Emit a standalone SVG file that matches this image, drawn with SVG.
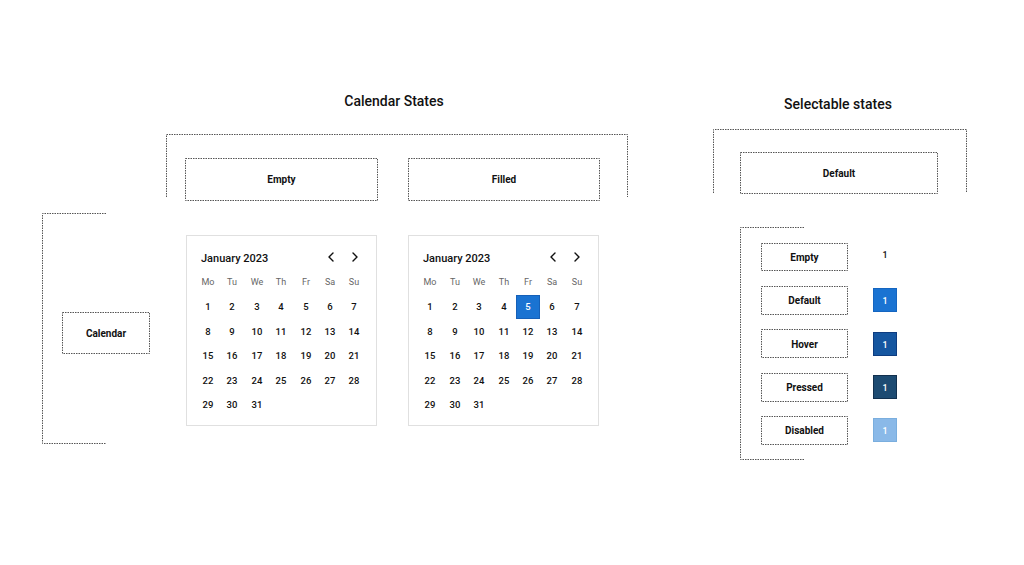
<svg xmlns="http://www.w3.org/2000/svg" width="1024" height="565" viewBox="0 0 1024 565">
<style>
text{font-family:Roboto,"Liberation Sans",sans-serif;fill:#111}
.title{font-size:14px;font-weight:500;text-anchor:middle}
.lbl{font-size:10px;font-weight:700;text-anchor:middle}
.br{fill:none;stroke:#555;stroke-width:1;stroke-dasharray:1.5 1}
.box{fill:#fff;stroke:#555;stroke-width:1;stroke-dasharray:1.5 1}
.card{fill:#fff;stroke:#e0e0e0;stroke-width:1}
.wd{font-size:9px;fill:#666;text-anchor:middle}
.d{font-size:9.5px;font-weight:500;text-anchor:middle}
.hd{font-size:11px;font-weight:500}
.chev{fill:none;stroke:#111;stroke-width:1.4;stroke-linecap:round;stroke-linejoin:round}
.sq{font-size:9px;font-weight:500;text-anchor:middle;fill:#fff}
</style>
<text class="title" x="394" y="106">Calendar States</text>
<text class="title" x="838" y="109">Selectable states</text>
<g id="brackets">
<path class="br" d="M166.5,197 V134.5 H627.5 V197"/>
<path class="br" d="M106,213.5 H42.5 V443.5 H106"/>
<path class="br" d="M713.5,193 V129.5 H966.5 V193"/>
<path class="br" d="M804,227.5 H740.5 V459.5 H804"/>
</g>
<g id="empty-head"><rect class="box" x="185.5" y="158.5" width="192" height="42"/><text class="lbl" x="281.5" y="183">Empty</text></g>
<g id="filled-head"><rect class="box" x="408.5" y="158.5" width="191" height="42"/><text class="lbl" x="504" y="183">Filled</text></g>
<g id="calendar-label"><rect class="box" x="62.5" y="312.5" width="87" height="41"/><text class="lbl" x="106" y="336.5">Calendar</text></g>
<g id="default-head"><rect class="box" x="740.5" y="152.5" width="197" height="41"/><text class="lbl" x="839" y="176.5">Default</text></g>

<g id="cal-empty">
<rect class="card" x="186.5" y="235.5" width="190" height="190"/>
<text class="hd" x="201" y="261.5">January 2023</text>
<path class="chev" d="M333,253 L329,257 L333,261"/>
<path class="chev" d="M353,253 L357,257 L353,261"/>
<g class="wdrow">
<text class="wd" x="208" y="285">Mo</text><text class="wd" x="232" y="285">Tu</text><text class="wd" x="257" y="285">We</text><text class="wd" x="281" y="285">Th</text><text class="wd" x="306" y="285">Fr</text><text class="wd" x="330" y="285">Sa</text><text class="wd" x="354" y="285">Su</text>
</g>
<text class="d" x="208" y="310">1</text><text class="d" x="232" y="310">2</text><text class="d" x="257" y="310">3</text><text class="d" x="281" y="310">4</text><text class="d" x="306" y="310">5</text><text class="d" x="330" y="310">6</text><text class="d" x="354" y="310">7</text>
<text class="d" x="208" y="334.5">8</text><text class="d" x="232" y="334.5">9</text><text class="d" x="257" y="334.5">10</text><text class="d" x="281" y="334.5">11</text><text class="d" x="306" y="334.5">12</text><text class="d" x="330" y="334.5">13</text><text class="d" x="354" y="334.5">14</text>
<text class="d" x="208" y="359">15</text><text class="d" x="232" y="359">16</text><text class="d" x="257" y="359">17</text><text class="d" x="281" y="359">18</text><text class="d" x="306" y="359">19</text><text class="d" x="330" y="359">20</text><text class="d" x="354" y="359">21</text>
<text class="d" x="208" y="383.5">22</text><text class="d" x="232" y="383.5">23</text><text class="d" x="257" y="383.5">24</text><text class="d" x="281" y="383.5">25</text><text class="d" x="306" y="383.5">26</text><text class="d" x="330" y="383.5">27</text><text class="d" x="354" y="383.5">28</text>
<text class="d" x="208" y="408">29</text><text class="d" x="232" y="408">30</text><text class="d" x="257" y="408">31</text>
</g>

<g id="cal-filled">
<rect class="card" x="408.5" y="235.5" width="190" height="190"/>
<text class="hd" x="423" y="261.5">January 2023</text>
<path class="chev" d="M555,253 L551,257 L555,261"/>
<path class="chev" d="M575,253 L579,257 L575,261"/>
<text class="wd" x="430" y="285">Mo</text><text class="wd" x="455" y="285">Tu</text><text class="wd" x="479" y="285">We</text><text class="wd" x="504" y="285">Th</text><text class="wd" x="528" y="285">Fr</text><text class="wd" x="552" y="285">Sa</text><text class="wd" x="577" y="285">Su</text>
<rect x="516.5" y="295.5" width="23" height="23" fill="#1a73d2" stroke="#1560b8"/>
<text class="d" x="430" y="310">1</text><text class="d" x="455" y="310">2</text><text class="d" x="479" y="310">3</text><text class="d" x="504" y="310">4</text><text class="d" x="528" y="310" style="fill:#fff">5</text><text class="d" x="552" y="310">6</text><text class="d" x="577" y="310">7</text>
<text class="d" x="430" y="334.5">8</text><text class="d" x="455" y="334.5">9</text><text class="d" x="479" y="334.5">10</text><text class="d" x="504" y="334.5">11</text><text class="d" x="528" y="334.5">12</text><text class="d" x="552" y="334.5">13</text><text class="d" x="577" y="334.5">14</text>
<text class="d" x="430" y="359">15</text><text class="d" x="455" y="359">16</text><text class="d" x="479" y="359">17</text><text class="d" x="504" y="359">18</text><text class="d" x="528" y="359">19</text><text class="d" x="552" y="359">20</text><text class="d" x="577" y="359">21</text>
<text class="d" x="430" y="383.5">22</text><text class="d" x="455" y="383.5">23</text><text class="d" x="479" y="383.5">24</text><text class="d" x="504" y="383.5">25</text><text class="d" x="528" y="383.5">26</text><text class="d" x="552" y="383.5">27</text><text class="d" x="577" y="383.5">28</text>
<text class="d" x="430" y="408">29</text><text class="d" x="455" y="408">30</text><text class="d" x="479" y="408">31</text>
</g>

<g id="state-empty"><rect class="box" x="761.5" y="243.5" width="86" height="27"/><text class="lbl" x="804.5" y="260.5">Empty</text><text class="sq" x="885" y="257.5" style="fill:#111">1</text></g>
<g id="state-default"><rect class="box" x="761.5" y="286.5" width="86" height="28"/><text class="lbl" x="804.5" y="304">Default</text><rect x="873.5" y="288.5" width="23" height="23" fill="#1a73d2" stroke="#1565c0"/><text class="sq" x="885" y="303.5">1</text></g>
<g id="state-hover"><rect class="box" x="761.5" y="329.5" width="86" height="28"/><text class="lbl" x="804.5" y="347.5">Hover</text><rect x="873.5" y="332.5" width="23" height="23" fill="#1556a0" stroke="#0d3c80"/><text class="sq" x="885" y="347.5">1</text></g>
<g id="state-pressed"><rect class="box" x="761.5" y="373.5" width="86" height="28"/><text class="lbl" x="804.5" y="391">Pressed</text><rect x="873.5" y="375.5" width="23" height="23" fill="#1d4b72" stroke="#12304e"/><text class="sq" x="885" y="390.5">1</text></g>
<g id="state-disabled"><rect class="box" x="761.5" y="416.5" width="86" height="28"/><text class="lbl" x="804.5" y="434">Disabled</text><rect x="873.5" y="418.5" width="23" height="23" fill="#8ab9e8" stroke="#7aaede"/><text class="sq" x="885" y="433.5">1</text></g>
</svg>
